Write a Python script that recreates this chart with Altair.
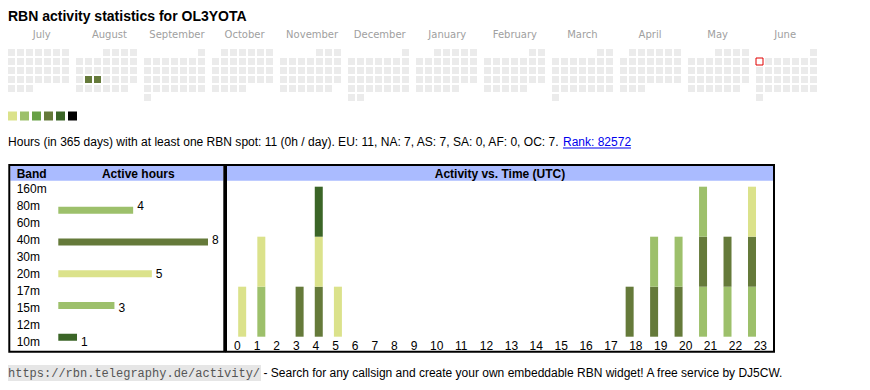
import datetime as dt
import altair as alt
import pandas as pd

# ---------------- data ----------------
TITLE = "RBN activity statistics for OL3YOTA"
MONTHS = ["July", "August", "September", "October", "November", "December",
          "January", "February", "March", "April", "May", "June"]
MONTH_YM = [(2024, 7), (2024, 8), (2024, 9), (2024, 10), (2024, 11), (2024, 12),
            (2025, 1), (2025, 2), (2025, 3), (2025, 4), (2025, 5), (2025, 6)]
LEVEL_COLORS = ["#dbe28b", "#9dc06b", "#67a045", "#657a3a", "#3b6527", "#000000"]
EMPTY_COLOR = "#ebebeb"
ACTIVE_DAYS = ["2024-08-20", "2024-08-21"]
ACTIVE_LEVELS = [4, 4]          # 1..6 -> LEVEL_COLORS
TODAY = "2025-06-02"

BANDS = ["160m", "80m", "60m", "40m", "30m", "20m", "17m", "15m", "12m", "10m"]
BAND_HOURS = [0, 4, 0, 8, 0, 5, 0, 3, 0, 1]
BAND_COLORS = ["#dbe28b", "#9dc06b", "#67a045", "#657a3a", "#3b6527",
               "#dbe28b", "#67a045", "#9dc06b", "#67a045", "#3b6527"]
HOURS = list(range(24))
SPOTS_80M = [1, 21, 22, 23]
SPOTS_40M = [3, 4, 18, 19, 20, 21, 22, 23]
SPOTS_20M = [0, 1, 4, 5, 23]
SPOTS_15M = [19, 20, 21]
SPOTS_10M = [4]

SUMMARY = ("Hours (in 365 days) with at least one RBN spot: 11 (0h / day). "
           "EU: 11, NA: 7, AS: 7, SA: 0, AF: 0, OC: 7.")
RANK = "Rank: 82572"
URL = "https://rbn.telegraphy.de/activity/"
FOOTER = "- Search for any callsign and create your own embeddable RBN widget! A free service by DJ5CW."

FONT = "Liberation Sans"

# ---------------- tables ----------------
active = dict(zip(ACTIVE_DAYS, ACTIVE_LEVELS))
cal_rows = []
for mi, (yy, mm) in enumerate(MONTH_YM):
    first = dt.date(yy, mm, 1)
    nxt = dt.date(yy + (mm == 12), mm % 12 + 1, 1)
    off = first.weekday()
    for d in range((nxt - first).days):
        day = first + dt.timedelta(days=d)
        k = d + off
        cal_rows.append({"month": MONTHS[mi], "dow": k % 7, "row": k // 7,
                         "level": active.get(day.isoformat(), 0)})
cal = pd.DataFrame(cal_rows)
td = dt.date.fromisoformat(TODAY)
tfirst = td.replace(day=1)
tk = td.day - 1 + tfirst.weekday()
today_df = pd.DataFrame({"month": [MONTHS[MONTH_YM.index((td.year, td.month))]],
                         "dow": [tk % 7], "row": [tk // 7]})

band_df = pd.DataFrame({"band": BANDS, "idx": list(range(len(BANDS))), "hours": BAND_HOURS})
spot_lists = {"80m": SPOTS_80M, "40m": SPOTS_40M, "20m": SPOTS_20M, "15m": SPOTS_15M, "10m": SPOTS_10M}
spot_rows = []
for b, hl in spot_lists.items():
    for h in hl:
        spot_rows.append({"hour": h, "band": b, "idx": BANDS.index(b), "v": 1})
spots = pd.DataFrame(spot_rows)
hours_df = pd.DataFrame({"hour": HOURS, "label": [str(h) for h in HOURS]})
legend_df = pd.DataFrame({"lvl": list(range(len(LEVEL_COLORS)))})


# ---------------- helpers ----------------
def month_x():
    return alt.X("month:N", scale=alt.Scale(domain=MONTHS, range=[0, 811],
                                            paddingInner=5 / 68, paddingOuter=0), axis=None)


def dow_xo():
    return alt.XOffset("dow:O", scale=alt.Scale(domain=list(range(7)), paddingInner=2 / 9,
                                                paddingOuter=1 / 9, align=0))


def row_y():
    return alt.Y("row:O", scale=alt.Scale(domain=list(range(6)), range=[41, 95],
                                          paddingInner=2 / 9, paddingOuter=1 / 9, align=0), axis=None)


def hour_x(field="hour:Q"):
    return alt.X(field, scale=alt.Scale(domain=[0, 9, 10, 23], range=[229.85, 406.5, 425.9, 749.5],
                                        nice=False, zero=False), axis=None)


def txt(s, x, y, size=12, weight="normal", color="#000", align="left",
        baseline="middle", font=FONT):
    return alt.Chart(pd.DataFrame({"t": [s]})).mark_text(
        align=align, baseline=baseline, fontSize=size, fontWeight=weight, color=color, font=font
    ).encode(x=alt.value(x), y=alt.value(y), text="t:N")


def box(x, x2, y, y2, **kw):
    return alt.Chart(pd.DataFrame({"a": [0]})).mark_rect(**kw).encode(
        x=alt.value(x), x2=alt.value(x2), y=alt.value(y), y2=alt.value(y2))


layers = []

# title
layers.append(txt(TITLE, 0, 12.7, size=14, weight="bold", baseline="alphabetic"))

# calendar
layers.append(alt.Chart(pd.DataFrame({"month": MONTHS})).mark_text(
    fontSize=10, font="DejaVu Sans", color="#a0a0a0", baseline="middle"
).encode(x=month_x(), y=alt.value(27), text="month:N"))
layers.append(alt.Chart(cal).mark_rect().encode(
    x=month_x(), xOffset=dow_xo(), y=row_y(),
    color=alt.Color("level:O", scale=alt.Scale(domain=list(range(7)),
                                               range=[EMPTY_COLOR] + LEVEL_COLORS), legend=None)))
layers.append(alt.Chart(today_df).mark_rect(fill="#ffffff", stroke="#e00000", strokeWidth=1).encode(
    x=month_x(), xOffset=dow_xo(), y=row_y()))

# level legend
layers.append(alt.Chart(legend_df).mark_rect().encode(
    x=alt.X("lvl:O", scale=alt.Scale(domain=list(range(6)), range=[0, 69],
                                     paddingInner=0.25, paddingOuter=0), axis=None),
    y=alt.value(103.5), y2=alt.value(112.5),
    color=alt.Color("lvl:O", scale=alt.Scale(domain=list(range(6)), range=LEVEL_COLORS), legend=None)))

# summary line
layers.append(txt(SUMMARY, 0, 138, size=12.04, baseline="alphabetic"))
layers.append(txt(RANK, 555, 138, color="#0000ee", baseline="alphabetic"))
layers.append(box(555, 623, 139.5, 140.5, color="#0000ee"))

# panels
layers.append(box(2.3, 215.3, 158, 172.7, color="#aabbff"))
layers.append(box(219, 765, 158, 172.7, color="#aabbff"))
layers.append(box(1.3, 216.3, 157, 343.7, fillOpacity=0, stroke="#000000", strokeWidth=2))
layers.append(box(218, 766, 157, 343.7, fillOpacity=0, stroke="#000000", strokeWidth=2))
layers.append(txt("Band", 8.7, 165.5, weight="bold"))
layers.append(txt("Active hours", 130.3, 165.5, weight="bold", align="center"))
layers.append(txt("Activity vs. Time (UTC)", 492, 165.5, weight="bold", align="center"))

# band table
band_y = alt.Y("idx:Q", scale=alt.Scale(domain=[0, 9], range=[181.3, 334.3], nice=False, zero=False),
               axis=None)
band_x = alt.X("hours:Q", scale=alt.Scale(domain=[0, 8], range=[50.3, 200], nice=False), axis=None)
layers.append(alt.Chart(band_df).mark_text(align="left", baseline="middle", fontSize=12, font=FONT,
                                           color="#000").encode(
    x=alt.value(8.7), y=band_y, text="band:N"))
layers.append(alt.Chart(band_df).transform_filter("datum.hours > 0").mark_bar(
    orient="horizontal", size=7).encode(
    x=band_x, y=band_y,
    color=alt.Color("band:N", scale=alt.Scale(domain=BANDS, range=BAND_COLORS), legend=None)))
layers.append(alt.Chart(band_df).transform_filter("datum.hours > 0").mark_text(
    align="left", baseline="middle", dx=4, fontSize=12, font=FONT, color="#000").encode(
    x=band_x, y=band_y, text="hours:Q"))

# activity vs time
layers.append(alt.Chart(spots).mark_bar(orient="vertical", size=8).encode(
    x=hour_x(),
    y=alt.Y("v:Q", stack="zero", scale=alt.Scale(domain=[0, 3], range=[328.7, 178.7], nice=False),
            axis=None),
    order=alt.Order("idx:Q", sort="ascending"),
    color=alt.Color("band:N", scale=alt.Scale(domain=BANDS, range=BAND_COLORS), legend=None)))
layers.append(alt.Chart(hours_df).mark_text(align="left", baseline="middle", dx=-3.85, fontSize=12,
                                            font=FONT, color="#000").encode(
    x=hour_x(), y=alt.value(338), text="label:N"))

# footer
layers.append(box(0, 253, 357, 373, color="#e6e6e6"))
layers.append(txt(URL, 0, 365, color="#555555", font="Liberation Mono"))
layers.append(txt(FOOTER, 255.5, 365))

chart = alt.layer(*layers).properties(
    width=854, height=374, padding=0, autosize=alt.AutoSizeParams(type="none")
).resolve_scale(
    x="independent", y="independent", color="independent", xOffset="independent"
).configure_view(strokeOpacity=0)

chart.save("out.html", embed_options={"renderer": "svg", "actions": False})
